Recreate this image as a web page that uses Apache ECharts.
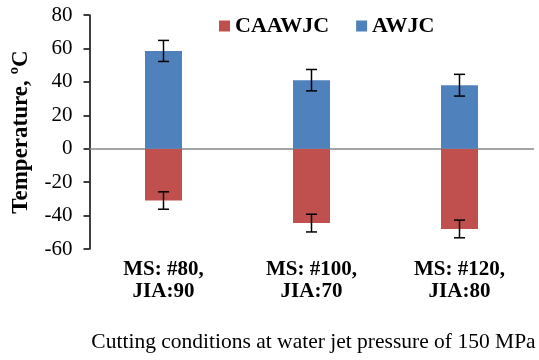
<!DOCTYPE html>
<html><head><meta charset="utf-8">
<script src="https://cdn.jsdelivr.net/npm/echarts@6/dist/echarts.min.js"></script>
<style>html,body{margin:0;padding:0;background:#fff}#c{width:539px;height:360px}</style>
</head><body><div id="c"></div>
<script>
var categories = ['MS: #80,\nJIA:90', 'MS: #100,\nJIA:70', 'MS: #120,\nJIA:80'];
var caawjcValues = [-31, -44.5, -48];
var caawjcErrors = [5.2, 5.3, 5.3];
var awjcValues = [58.5, 41, 38];
var awjcErrors = [6.3, 6.4, 6.5];
var yTicks = [-60, -40, -20, 0, 20, 40, 60, 80];

var FONT = '"Liberation Serif", "Times New Roman", serif';
function errData(vals, errs) {
  return vals.map(function (v, i) { return [i, v - errs[i], v + errs[i]]; });
}
function renderErr(params, api) {
  var x = api.value(0);
  var lo = api.coord([x, api.value(1)]);
  var hi = api.coord([x, api.value(2)]);
  var hw = 5.5;
  var st = { stroke: '#000', lineWidth: 1.5 };
  return { type: 'group', children: [
    { type: 'line', shape: { x1: lo[0], y1: lo[1], x2: hi[0], y2: hi[1] }, style: st },
    { type: 'line', shape: { x1: lo[0] - hw, y1: lo[1], x2: lo[0] + hw, y2: lo[1] }, style: st },
    { type: 'line', shape: { x1: hi[0] - hw, y1: hi[1], x2: hi[0] + hw, y2: hi[1] }, style: st }
  ]};
}
var chart = echarts.init(document.getElementById('c'), null, { renderer: 'canvas' });
chart.setOption({
  animation: false,
  textStyle: { fontFamily: FONT },
  grid: { left: 89.5, right: 5.5, top: 15, bottom: 111, containLabel: false },
  legend: {
    left: 214, top: 10, itemWidth: 11, itemHeight: 11, itemGap: 27,
    icon: 'rect',
    textStyle: { fontFamily: FONT, fontWeight: 'bold', fontSize: 22, color: '#000' },
    data: ['CAAWJC', 'AWJC']
  },
  xAxis: [{
    type: 'category', data: categories,
    axisLine: { onZero: true, lineStyle: { color: '#888', width: 1.5 } },
    axisTick: { show: false }, axisLabel: { show: false }
  }, {
    type: 'category', data: categories, position: 'bottom',
    axisLine: { show: false, onZero: false }, axisTick: { show: false },
    axisLabel: { fontFamily: FONT, fontWeight: 'bold', fontSize: 21, lineHeight: 22, color: '#000', margin: 10 }
  }],
  yAxis: {
    type: 'value', min: yTicks[0], max: yTicks[yTicks.length - 1], interval: 20,
    splitLine: { show: false },
    axisLine: { show: true, lineStyle: { color: '#000', width: 1.5 } },
    axisTick: { show: true, inside: false, length: 6, lineStyle: { color: '#000', width: 1.5 } },
    axisLabel: { fontFamily: FONT, fontSize: 21, color: '#000', margin: 17, padding: [4, 0, 0, 0] },
    name: 'Temperature, ºC', nameLocation: 'middle', nameGap: 57, nameRotate: 90,
    nameTextStyle: { fontFamily: FONT, fontWeight: 'bold', fontSize: 23, color: '#000' }
  },
  series: [
    { name: 'CAAWJC', type: 'bar', data: caawjcValues, barWidth: '25%', barGap: '-100%', itemStyle: { color: '#C0504D' } },
    { name: 'AWJC', type: 'bar', data: awjcValues, barWidth: '25%', barGap: '-100%', itemStyle: { color: '#4F81BD' } },
    { type: 'custom', renderItem: renderErr, data: errData(caawjcValues, caawjcErrors), z: 5 },
    { type: 'custom', renderItem: renderErr, data: errData(awjcValues, awjcErrors), z: 5 }
  ],
  graphic: [{
    type: 'text', x: 313.5, y: 342,
    style: { text: 'Cutting conditions at water jet pressure of 150 MPa', font: '21.5px ' + FONT, fill: '#000',
      textAlign: 'center', textVerticalAlign: 'middle' }
  }]
});
</script></body></html>
